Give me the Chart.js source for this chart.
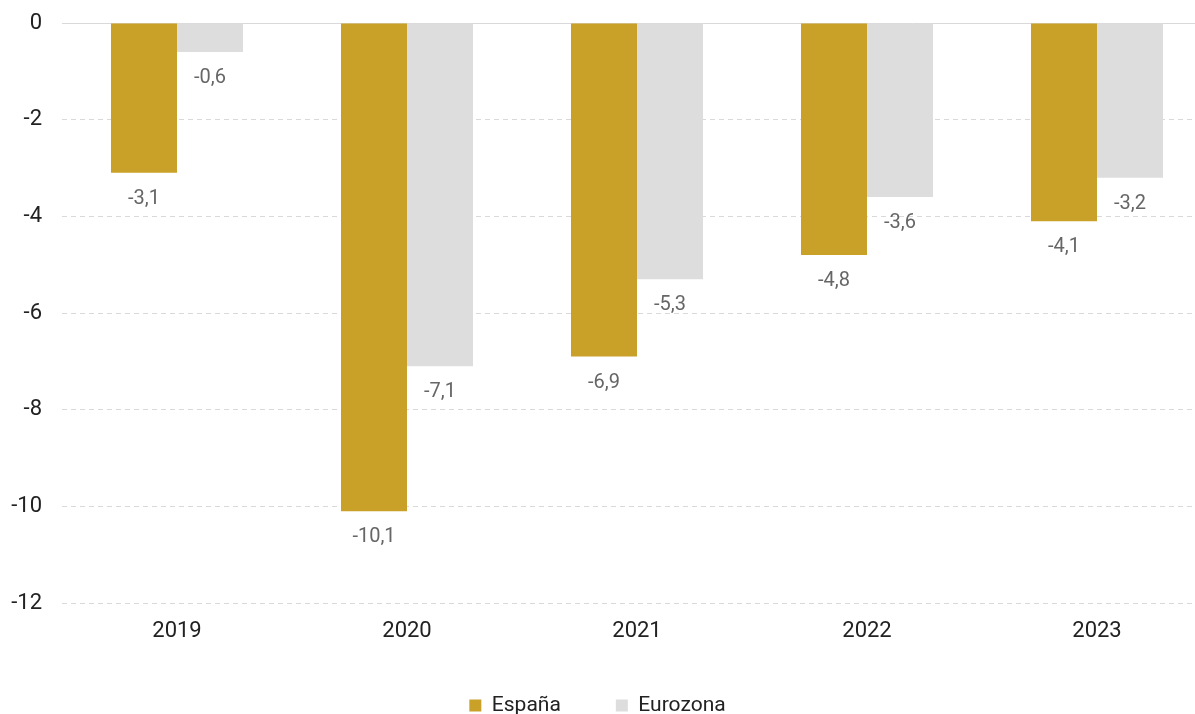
<!DOCTYPE html>
<html>
<head>
<meta charset="utf-8">
<script src="https://cdn.jsdelivr.net/npm/chart.js@4.4.0/dist/chart.umd.min.js"></script>
<style>
  html, body { margin: 0; padding: 0; background: #fff; overflow: hidden; }
  #wrap { position: relative; width: 1195px; height: 726px; }
</style>
</head>
<body>
<div id="wrap"><canvas id="barChart"></canvas></div>
<script>
const years = ['2019', '2020', '2021', '2022', '2023'];
const espana = [-3.1, -10.1, -6.9, -4.8, -4.1];
const eurozona = [-0.6, -7.1, -5.3, -3.6, -3.2];
const yTicks = [0, -2, -4, -6, -8, -10, -12];

const FONT = 'Roboto, "DejaVu Sans", sans-serif';

// the original's plot runs past the right edge and starts close to the top,
// so nudge the chart area after chart.js has laid it out
const fixArea = {
    id: 'fixArea',
    afterLayout(chart) {
        const area = chart.chartArea;
        const extra = 17;
        const top = 23;
        area.right += extra;
        area.width += extra;
        area.top = top;
        area.height = area.bottom - top;
        const {x, y} = chart.scales;
        x.right += extra;
        x.width += extra;
        x.configure();
        y.top = top;
        y.height = y.bottom - top;
        y.configure();
    }
};

const zeroLine = {
    id: 'zeroLine',
    beforeDatasetsDraw(chart) {
        const {ctx, chartArea, scales: {y}} = chart;
        const py = Math.round(y.getPixelForValue(0)) + 0.5;
        ctx.save();
        ctx.strokeStyle = '#d9d9d9';
        ctx.lineWidth = 1;
        ctx.beginPath();
        ctx.moveTo(chartArea.left, py);
        ctx.lineTo(chartArea.right, py);
        ctx.stroke();
        ctx.restore();
    }
};

const barLabels = {
    id: 'barLabels',
    afterDatasetsDraw(chart) {
        const ctx = chart.ctx;
        ctx.save();
        ctx.font = '20px ' + FONT;
        ctx.fillStyle = '#666666';
        ctx.textAlign = 'center';
        ctx.textBaseline = 'middle';
        chart.data.datasets.forEach((ds, i) => {
            chart.getDatasetMeta(i).data.forEach((bar, j) => {
                const txt = ds.data[j].toFixed(1).replace('.', ',');
                ctx.fillText(txt, bar.x, bar.y + 26);
            });
        });
        ctx.restore();
    }
};

new Chart(document.getElementById('barChart'), {
    type: 'bar',
    data: {
        labels: years,
        datasets: [
            { label: 'España', data: espana, backgroundColor: '#c9a028' },
            { label: 'Eurozona', data: eurozona, backgroundColor: '#dddddd' }
        ]
    },
    options: {
        responsive: true,
        maintainAspectRatio: false,
        animation: false,
        categoryPercentage: 0.574,
        barPercentage: 1,
        layout: { padding: { top: 13, left: 0, right: 0, bottom: 0 } },
        scales: {
            x: {
                afterFit: s => { s.height = 37; },
                grid: { display: false, drawTicks: false },
                border: { display: false },
                ticks: { color: '#222', font: { family: FONT, size: 22 }, padding: 15 }
            },
            y: {
                min: -12,
                max: 0,
                afterFit: s => { s.width = 62; },
                afterBuildTicks: s => { s.ticks = yTicks.map(v => ({ value: v })); },
                grid: {
                    drawTicks: false,
                    color: c => (c.tick && c.tick.value === 0) ? 'rgba(0,0,0,0)' : '#d9d9d9'
                },
                border: { display: false, dash: [5, 4] },
                ticks: {
                    color: '#222',
                    font: { family: FONT, size: 22 },
                    padding: 20,
                    callback: v => String(v)
                }
            }
        },
        plugins: {
            legend: {
                position: 'bottom',
                labels: {
                    boxWidth: 12,
                    boxHeight: 12,
                    padding: 55,
                    color: '#222',
                    font: { family: FONT, size: 21 }
                }
            },
            tooltip: { enabled: false }
        }
    },
    plugins: [fixArea, zeroLine, barLabels]
});
</script>
</body>
</html>
